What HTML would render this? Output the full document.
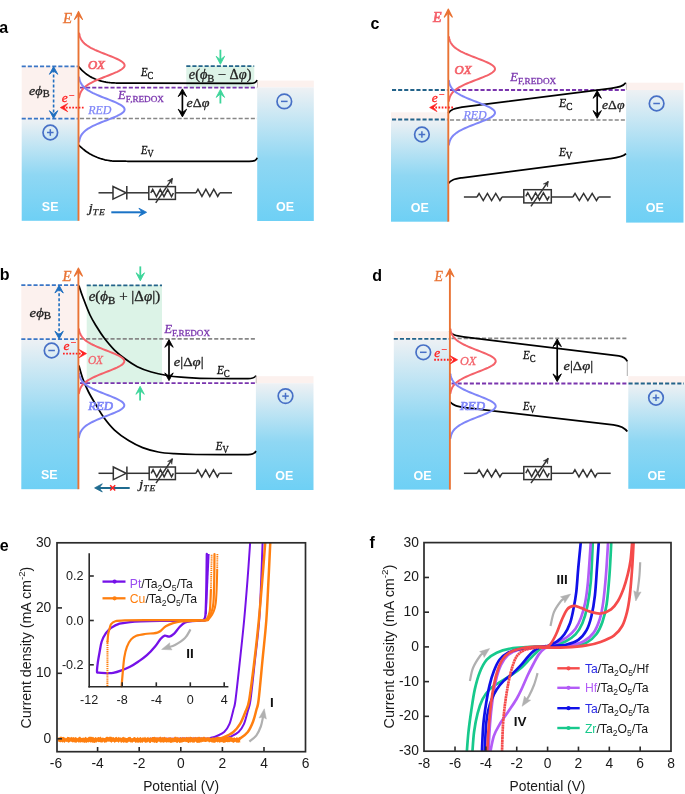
<!DOCTYPE html>
<html><head><meta charset="utf-8"><style>
html,body{margin:0;padding:0;background:#fff;}
svg{display:block;font-family:"Liberation Sans",sans-serif;will-change:transform;}
</style></head><body>
<svg width="685" height="794" viewBox="0 0 685 794">
<defs><linearGradient id="bg" x1="0" y1="0" x2="0" y2="1"><stop offset="0" stop-color="#EEF1F4"/><stop offset="0.55" stop-color="#8FD7F3"/><stop offset="1" stop-color="#6ED0F5"/></linearGradient></defs>
<rect width="685" height="794" fill="#fff"/>
<text x="-0.8" y="32.8" font-size="16" fill="#000" text-anchor="start" font-family="Liberation Sans" font-weight="bold" >a</text>
<rect x="21.7" y="66.4" width="56.8" height="52.2" fill="#FCF1EE" />
<rect x="21.7" y="118.6" width="56.8" height="102.2" fill="url(#bg)" />
<rect x="257.2" y="80.6" width="56.6" height="6.8" fill="#FCF1EE" />
<rect x="257.2" y="87.4" width="56.6" height="133.6" fill="url(#bg)" />
<rect x="186.3" y="65.8" width="68" height="21.8" fill="#DCF3E7" />
<line x1="186.3" y1="66.1" x2="254.2" y2="66.1" stroke="#23638A" stroke-width="1.7" stroke-dasharray="4.1,2" />
<line x1="21.7" y1="66.4" x2="77.8" y2="66.4" stroke="#3A76C6" stroke-width="1.8" stroke-dasharray="4.1,2" />
<line x1="21.7" y1="118.6" x2="77.8" y2="118.6" stroke="#3A76C6" stroke-width="1.8" stroke-dasharray="4.1,2" />
<line x1="80" y1="118.5" x2="257" y2="118.5" stroke="#878787" stroke-width="1.7" stroke-dasharray="4.1,2" />
<line x1="80" y1="87.7" x2="257" y2="87.7" stroke="#7A35AE" stroke-width="1.8" stroke-dasharray="4.1,2" />
<path d="M78.6,66.6 L79.75,67.95 L80.89,69.2 L82.04,70.36 L83.18,71.44 L84.33,72.44 L85.47,73.37 L86.62,74.23 L87.77,75.03 L88.91,75.78 L90.06,76.47 L91.2,77.12 L92.35,77.72 L93.5,78.27 L94.64,78.79 L95.79,79.27 L96.93,79.71 L98.08,80.12 L99.22,80.5 L100.37,80.84 L101.52,81.16 L102.66,81.45 L103.81,81.71 L104.95,81.94 L106.1,82.15 L107.25,82.33 L108.39,82.5 L109.54,82.63 L110.68,82.75 L111.83,82.84 L112.97,82.92 L114.12,82.97 L115.27,83 L116.41,83.03 L117.56,83.06 L118.7,83.08 L119.85,83.1 L121,83.12 L122.14,83.14 L123.29,83.16 L124.43,83.17 L125.58,83.18 L126.72,83.19 L127.87,83.21 L129.02,83.21 L130.16,83.22 L131.31,83.23 L132.45,83.24 L133.6,83.24 L249.2,83.3 C254.2,83.3 256.2,82.8 257.2,80" fill="none" stroke="#000" stroke-width="1.75"/>
<path d="M78.6,145 L79.75,146.13 L80.89,147.2 L82.04,148.21 L83.18,149.16 L84.33,150.06 L85.47,150.92 L86.62,151.73 L87.77,152.49 L88.91,153.21 L90.06,153.9 L91.2,154.54 L92.35,155.15 L93.5,155.73 L94.64,156.27 L95.79,156.78 L96.93,157.26 L98.08,157.7 L99.22,158.12 L100.37,158.51 L101.52,158.87 L102.66,159.2 L103.81,159.5 L104.95,159.78 L106.1,160.03 L107.25,160.26 L108.39,160.46 L109.54,160.63 L110.68,160.78 L111.83,160.91 L112.97,161.01 L114.12,161.09 L115.27,161.14 L116.41,161.17 L117.56,161.18 L118.7,161.19 L119.85,161.2 L121,161.21 L122.14,161.22 L123.29,161.23 L124.43,161.24 L125.58,161.24 L126.72,161.25 L127.87,161.25 L129.02,161.26 L130.16,161.26 L131.31,161.27 L132.45,161.27 L133.6,161.27 L249.2,161.3 C254.2,161.3 256.2,160.8 257.2,157.8" fill="none" stroke="#000" stroke-width="1.75"/>
<path d="M79.17,33.4 L79.33,34.31 L79.53,35.23 L79.77,36.14 L80.07,37.06 L80.43,37.97 L80.86,38.89 L81.37,39.8 L81.98,40.71 L82.68,41.63 L83.5,42.54 L84.44,43.46 L85.51,44.37 L86.72,45.29 L88.07,46.2 L89.57,47.11 L91.22,48.03 L93.01,48.94 L94.93,49.86 L96.98,50.77 L99.14,51.69 L101.39,52.6 L103.7,53.51 L106.06,54.43 L108.42,55.34 L110.75,56.26 L113.01,57.17 L115.17,58.09 L117.19,59 L119.03,59.91 L120.66,60.83 L122.04,61.74 L123.14,62.66 L123.95,63.57 L124.44,64.49 L124.6,65.4 L124.44,66.31 L123.95,67.23 L123.14,68.14 L122.04,69.06 L120.66,69.97 L119.03,70.89 L117.19,71.8 L115.17,72.71 L113.01,73.63 L110.75,74.54 L108.42,75.46 L106.06,76.37 L103.7,77.29 L101.39,78.2 L99.14,79.11 L96.98,80.03 L94.93,80.94 L93.01,81.86 L91.22,82.77 L89.57,83.69 L88.07,84.6 L86.72,85.51 L85.51,86.43 L84.44,87.34 L83.5,88.26 L82.68,89.17 L81.98,90.09 L81.37,91 L80.86,91.91 L80.43,92.83 L80.07,93.74 L79.77,94.66 L79.53,95.57 L79.33,96.49 L79.17,97.4" fill="none" stroke="#F4626A" stroke-width="2.0" stroke-linecap="round"/>
<path d="M79.17,77.5 L79.33,78.41 L79.53,79.33 L79.77,80.24 L80.07,81.16 L80.43,82.07 L80.86,82.99 L81.37,83.9 L81.98,84.81 L82.68,85.73 L83.5,86.64 L84.44,87.56 L85.51,88.47 L86.72,89.39 L88.07,90.3 L89.57,91.21 L91.22,92.13 L93.01,93.04 L94.93,93.96 L96.98,94.87 L99.14,95.79 L101.39,96.7 L103.7,97.61 L106.06,98.53 L108.42,99.44 L110.75,100.36 L113.01,101.27 L115.17,102.19 L117.19,103.1 L119.03,104.01 L120.66,104.93 L122.04,105.84 L123.14,106.76 L123.95,107.67 L124.44,108.59 L124.6,109.5 L124.44,110.41 L123.95,111.33 L123.14,112.24 L122.04,113.16 L120.66,114.07 L119.03,114.99 L117.19,115.9 L115.17,116.81 L113.01,117.73 L110.75,118.64 L108.42,119.56 L106.06,120.47 L103.7,121.39 L101.39,122.3 L99.14,123.21 L96.98,124.13 L94.93,125.04 L93.01,125.96 L91.22,126.87 L89.57,127.79 L88.07,128.7 L86.72,129.61 L85.51,130.53 L84.44,131.44 L83.5,132.36 L82.68,133.27 L81.98,134.19 L81.37,135.1 L80.86,136.01 L80.43,136.93 L80.07,137.84 L79.77,138.76 L79.53,139.67 L79.33,140.59 L79.17,141.5" fill="none" stroke="#7F86F8" stroke-width="2.0" stroke-linecap="round"/>
<line x1="78.5" y1="220.8" x2="78.5" y2="14.4" stroke="#E97334" stroke-width="1.9" />
<path d="M78.5,11.4 L82.5,19.4 L78.5,15 L74.5,19.4 Z" fill="#E97334" stroke="#E97334" stroke-width="1.1" stroke-linejoin="round"/>
<text x="63" y="23" font-size="14.8" fill="#E97334" stroke="#E97334" stroke-width="0.35" font-family="Liberation Serif" ><tspan font-style="italic">E</tspan></text>
<text x="87.9" y="68.5" font-size="12.2" fill="#F4626A" stroke="#F4626A" stroke-width="0.7" font-family="Liberation Serif" textLength="17" lengthAdjust="spacingAndGlyphs" ><tspan font-style="italic">OX</tspan></text>
<text x="88.2" y="113.9" font-size="12.2" fill="#7F86F8" stroke="#7F86F8" stroke-width="0.25" font-family="Liberation Serif" textLength="23.3" lengthAdjust="spacingAndGlyphs" ><tspan font-style="italic">RED</tspan></text>
<text x="61.8" y="102.3" font-size="13.5" fill="#FF2020" stroke="#FF2020" stroke-width="0.3" font-family="Liberation Serif" ><tspan font-style="italic">e</tspan><tspan font-size="10" dx="1.2" dy="-3.8">−</tspan></text>
<line x1="83.6" y1="107.6" x2="63.3" y2="107.6" stroke="#FF2020" stroke-width="1.9" stroke-dasharray="1.7,1.5" />
<path d="M60.3,107.6 L67.7,103.5 L64.2,107.6 L67.7,111.7 Z" fill="#FF2020" stroke="#FF2020" stroke-width="0.7" stroke-linejoin="round"/>
<line x1="53.6" y1="69.6" x2="53.6" y2="115.4" stroke="#1F6FC0" stroke-width="1.6" stroke-dasharray="3,2" />
<path d="M53.6,66.6 L57.8,74.3 L53.6,70.9 L49.4,74.3 Z" fill="#1F6FC0" stroke="#1F6FC0" stroke-width="0.9" stroke-linejoin="round"/>
<path d="M53.6,118.4 L49.4,110.7 L53.6,114.1 L57.8,110.7 Z" fill="#1F6FC0" stroke="#1F6FC0" stroke-width="0.9" stroke-linejoin="round"/>
<text x="29.1" y="95.3" font-size="13.5" fill="#222" stroke="#222" stroke-width="0.3" font-family="Liberation Serif" textLength="20.5" lengthAdjust="spacingAndGlyphs" ><tspan font-style="italic">eϕ</tspan><tspan font-size="10" dy="2">B</tspan></text>
<circle cx="50.3" cy="132.5" r="7.3" fill="none" stroke="#4770C6" stroke-width="1.7"/>
<line x1="47" y1="132.5" x2="53.6" y2="132.5" stroke="#4770C6" stroke-width="1.5" />
<line x1="50.3" y1="129.2" x2="50.3" y2="135.8" stroke="#4770C6" stroke-width="1.5" />
<text x="50.2" y="211" font-size="12.5" fill="#fff" text-anchor="middle" font-family="Liberation Sans" font-weight="bold" >SE</text>
<text x="140.9" y="75.8" font-size="12.6" fill="#111" stroke="#111" stroke-width="0.3" font-family="Liberation Serif" textLength="12.4" lengthAdjust="spacingAndGlyphs" ><tspan font-style="italic">E</tspan><tspan font-size="10" dy="2.9">C</tspan></text>
<text x="140.9" y="153.6" font-size="12.6" fill="#111" stroke="#111" stroke-width="0.3" font-family="Liberation Serif" textLength="12.6" lengthAdjust="spacingAndGlyphs" ><tspan font-style="italic">E</tspan><tspan font-size="10" dy="2.9">V</tspan></text>
<text x="118.1" y="98.5" font-size="12.6" fill="#7A35AE" stroke="#7A35AE" stroke-width="0.3" font-family="Liberation Serif" textLength="45.9" lengthAdjust="spacingAndGlyphs" ><tspan font-style="italic">E</tspan><tspan font-size="9.2" dy="3">F,REDOX</tspan></text>
<line x1="220.4" y1="49.7" x2="220.4" y2="61.3" stroke="#3DD59A" stroke-width="1.8" />
<path d="M220.4,64.3 L216.2,56.3 L220.4,59.8 L224.6,56.3 Z" fill="#3DD59A" stroke="#3DD59A" stroke-width="0.9" stroke-linejoin="round"/>
<line x1="220.4" y1="103.5" x2="220.4" y2="92.4" stroke="#3DD59A" stroke-width="1.8" />
<path d="M220.4,89.4 L224.6,97.4 L220.4,93.9 L216.2,97.4 Z" fill="#3DD59A" stroke="#3DD59A" stroke-width="0.9" stroke-linejoin="round"/>
<text x="188.8" y="79.3" font-size="13.6" fill="#222" stroke="#222" stroke-width="0.3" font-family="Liberation Serif" textLength="62.7" lengthAdjust="spacingAndGlyphs" ><tspan font-style="italic">e</tspan>(<tspan font-style="italic">ϕ</tspan><tspan font-size="10" dy="2.3">B</tspan><tspan dy="-2.3"> − Δ</tspan><tspan font-style="italic">φ</tspan>)</text>
<line x1="182.4" y1="91.9" x2="182.4" y2="113.9" stroke="#000" stroke-width="1.7" />
<path d="M182.4,88.9 L186.6,96.6 L182.4,93.2 L178.2,96.6 Z" fill="#000" stroke="#000" stroke-width="0.9" stroke-linejoin="round"/>
<path d="M182.4,116.9 L178.2,109.2 L182.4,112.6 L186.6,109.2 Z" fill="#000" stroke="#000" stroke-width="0.9" stroke-linejoin="round"/>
<text x="186.6" y="107.3" font-size="13.2" fill="#222" stroke="#222" stroke-width="0.3" font-family="Liberation Serif" textLength="22.9" lengthAdjust="spacingAndGlyphs" ><tspan font-style="italic">e</tspan>Δ<tspan font-style="italic">φ</tspan></text>
<line x1="98.5" y1="192.8" x2="113" y2="192.8" stroke="#333" stroke-width="1.5" />
<path d="M113,186.5 L126,192.8 L113,199.1 Z" fill="none" stroke="#333" stroke-width="1.5"/>
<line x1="126.8" y1="186" x2="126.8" y2="199.6" stroke="#333" stroke-width="1.5" />
<line x1="127" y1="192.8" x2="148.8" y2="192.8" stroke="#333" stroke-width="1.5" />
<rect x="148.8" y="186.6" width="26.6" height="12.8" fill="none" stroke="#333" stroke-width="1.5"/>
<path d="M150.8,193 L152.68,189.4 L156.45,196.6 L160.22,189.4 L163.98,196.6 L167.75,189.4 L171.52,196.6 L173.4,193" fill="none" stroke="#333" stroke-width="1.5" stroke-linejoin="miter"/>
<line x1="155.72" y1="202.9" x2="172.47" y2="178.3" stroke="#333" stroke-width="1.5" />
<path d="M172.47,178.3 L171.81,183.9 L170.67,180.94 L167.51,180.97 Z" fill="#333" stroke="#333" stroke-width="0.5" stroke-linejoin="round"/>
<line x1="175.4" y1="192.8" x2="196" y2="192.8" stroke="#333" stroke-width="1.5" />
<path d="M196,192.8 L197.97,189.2 L201.92,196.4 L205.87,189.2 L209.82,196.4 L213.77,189.2 L217.72,196.4 L219.7,192.8" fill="none" stroke="#333" stroke-width="1.5" stroke-linejoin="miter"/>
<line x1="219.7" y1="192.8" x2="232" y2="192.8" stroke="#333" stroke-width="1.5" />
<text x="88.5" y="211.6" font-size="13.5" fill="#222" stroke="#222" stroke-width="0.25" font-family="Liberation Serif" textLength="17.3" lengthAdjust="spacingAndGlyphs" ><tspan font-style="italic">j</tspan><tspan font-size="8.3" dy="2.9" font-style="italic" letter-spacing="0.8">TE</tspan></text>
<line x1="111.3" y1="212.3" x2="143" y2="212.3" stroke="#1A73C6" stroke-width="2.0" />
<path d="M146.6,212.3 L138.9,216.4 L142,212.3 L138.9,208.2 Z" fill="#1A73C6" stroke="#1A73C6" stroke-width="0.8" stroke-linejoin="round"/>
<circle cx="284.3" cy="101.4" r="7.3" fill="none" stroke="#4770C6" stroke-width="1.7"/>
<line x1="281" y1="101.4" x2="287.6" y2="101.4" stroke="#4770C6" stroke-width="1.5" />
<line x1="257.5" y1="80.4" x2="257.5" y2="87.6" stroke="#B8B0AE" stroke-width="0.8" />
<text x="285" y="210.5" font-size="12.5" fill="#fff" text-anchor="middle" font-family="Liberation Sans" font-weight="bold" >OE</text>
<text x="370.6" y="29.1" font-size="16" fill="#000" text-anchor="start" font-family="Liberation Sans" font-weight="bold" >c</text>
<rect x="391" y="112.3" width="57" height="7.2" fill="#FCF1EE" />
<rect x="391" y="119.5" width="57" height="102.2" fill="url(#bg)" />
<rect x="626.1" y="82.7" width="57.4" height="7.3" fill="#FCF1EE" />
<rect x="626.1" y="90" width="57.4" height="132.6" fill="url(#bg)" />
<line x1="392" y1="90" x2="447.5" y2="90" stroke="#23638A" stroke-width="1.8" stroke-dasharray="4.1,2" />
<line x1="392" y1="119.5" x2="447.5" y2="119.5" stroke="#23638A" stroke-width="1.8" stroke-dasharray="4.1,2" />
<line x1="450" y1="90" x2="625.6" y2="90" stroke="#7A35AE" stroke-width="1.8" stroke-dasharray="4.1,2" />
<line x1="450" y1="120" x2="626" y2="120" stroke="#878787" stroke-width="1.7" stroke-dasharray="4.1,2" />
<path d="M448.3,113.3 C451,109 455,108.5 462,107.2 L611,88.3 C618,87.4 623,86.6 625.8,82.7" fill="none" stroke="#000" stroke-width="1.75"/>
<path d="M448.3,183.6 C451,179.5 455,179 462,177.8 L610,158.6 C617,157.7 623,157 626,153.6" fill="none" stroke="#000" stroke-width="1.75"/>
<path d="M448.88,36.9 L449.04,37.81 L449.24,38.73 L449.49,39.64 L449.79,40.56 L450.16,41.47 L450.59,42.39 L451.11,43.3 L451.73,44.21 L452.44,45.13 L453.27,46.04 L454.23,46.96 L455.32,47.87 L456.54,48.79 L457.92,49.7 L459.44,50.61 L461.11,51.53 L462.93,52.44 L464.88,53.36 L466.96,54.27 L469.15,55.19 L471.44,56.1 L473.79,57.01 L476.18,57.93 L478.57,58.84 L480.94,59.76 L483.24,60.67 L485.43,61.59 L487.48,62.5 L489.35,63.41 L491,64.33 L492.4,65.24 L493.52,66.16 L494.34,67.07 L494.83,67.99 L495,68.9 L494.83,69.81 L494.34,70.73 L493.52,71.64 L492.4,72.56 L491,73.47 L489.35,74.39 L487.48,75.3 L485.43,76.21 L483.24,77.13 L480.94,78.04 L478.57,78.96 L476.18,79.87 L473.79,80.79 L471.44,81.7 L469.15,82.61 L466.96,83.53 L464.88,84.44 L462.93,85.36 L461.11,86.27 L459.44,87.19 L457.92,88.1 L456.54,89.01 L455.32,89.93 L454.23,90.84 L453.27,91.76 L452.44,92.67 L451.73,93.59 L451.11,94.5 L450.59,95.41 L450.16,96.33 L449.79,97.24 L449.49,98.16 L449.24,99.07 L449.04,99.99 L448.88,100.9" fill="none" stroke="#F4626A" stroke-width="2.0" stroke-linecap="round"/>
<path d="M448.88,80.7 L449.04,81.61 L449.24,82.53 L449.49,83.44 L449.79,84.36 L450.16,85.27 L450.59,86.19 L451.11,87.1 L451.73,88.01 L452.44,88.93 L453.27,89.84 L454.23,90.76 L455.32,91.67 L456.54,92.59 L457.92,93.5 L459.44,94.41 L461.11,95.33 L462.93,96.24 L464.88,97.16 L466.96,98.07 L469.15,98.99 L471.44,99.9 L473.79,100.81 L476.18,101.73 L478.57,102.64 L480.94,103.56 L483.24,104.47 L485.43,105.39 L487.48,106.3 L489.35,107.21 L491,108.13 L492.4,109.04 L493.52,109.96 L494.34,110.87 L494.83,111.79 L495,112.7 L494.83,113.61 L494.34,114.53 L493.52,115.44 L492.4,116.36 L491,117.27 L489.35,118.19 L487.48,119.1 L485.43,120.01 L483.24,120.93 L480.94,121.84 L478.57,122.76 L476.18,123.67 L473.79,124.59 L471.44,125.5 L469.15,126.41 L466.96,127.33 L464.88,128.24 L462.93,129.16 L461.11,130.07 L459.44,130.99 L457.92,131.9 L456.54,132.81 L455.32,133.73 L454.23,134.64 L453.27,135.56 L452.44,136.47 L451.73,137.39 L451.11,138.3 L450.59,139.21 L450.16,140.13 L449.79,141.04 L449.49,141.96 L449.24,142.87 L449.04,143.79 L448.88,144.7" fill="none" stroke="#7F86F8" stroke-width="2.0" stroke-linecap="round"/>
<line x1="448.3" y1="221.7" x2="448.3" y2="12.1" stroke="#E97334" stroke-width="1.9" />
<path d="M448.3,9.1 L452.3,17.1 L448.3,12.7 L444.3,17.1 Z" fill="#E97334" stroke="#E97334" stroke-width="1.1" stroke-linejoin="round"/>
<text x="433" y="22.4" font-size="14.0" fill="#F5606A" stroke="#F5606A" stroke-width="0.7" font-family="Liberation Serif" ><tspan font-style="italic">E</tspan></text>
<text x="454.6" y="74.1" font-size="12.2" fill="#F4626A" stroke="#F4626A" stroke-width="0.7" font-family="Liberation Serif" textLength="17" lengthAdjust="spacingAndGlyphs" ><tspan font-style="italic">OX</tspan></text>
<text x="463.4" y="118.8" font-size="12.2" fill="#7F86F8" stroke="#7F86F8" stroke-width="0.25" font-family="Liberation Serif" textLength="23.3" lengthAdjust="spacingAndGlyphs" ><tspan font-style="italic">RED</tspan></text>
<text x="431.8" y="101.8" font-size="13.5" fill="#FF2020" stroke="#FF2020" stroke-width="0.3" font-family="Liberation Serif" ><tspan font-style="italic">e</tspan><tspan font-size="10" dx="1.2" dy="-3.8">−</tspan></text>
<line x1="453" y1="107.5" x2="432.6" y2="107.5" stroke="#FF2020" stroke-width="1.9" stroke-dasharray="1.7,1.5" />
<path d="M429.6,107.5 L437,103.4 L433.5,107.5 L437,111.6 Z" fill="#FF2020" stroke="#FF2020" stroke-width="0.7" stroke-linejoin="round"/>
<text x="510.3" y="80.8" font-size="12.6" fill="#7A35AE" stroke="#7A35AE" stroke-width="0.3" font-family="Liberation Serif" textLength="45.9" lengthAdjust="spacingAndGlyphs" ><tspan font-style="italic">E</tspan><tspan font-size="9.2" dy="3">F,REDOX</tspan></text>
<text x="558.9" y="107.3" font-size="12.6" fill="#111" stroke="#111" stroke-width="0.3" font-family="Liberation Serif" textLength="13.5" lengthAdjust="spacingAndGlyphs" ><tspan font-style="italic">E</tspan><tspan font-size="10" dy="2.9">C</tspan></text>
<text x="558.9" y="156" font-size="12.6" fill="#111" stroke="#111" stroke-width="0.3" font-family="Liberation Serif" textLength="13.5" lengthAdjust="spacingAndGlyphs" ><tspan font-style="italic">E</tspan><tspan font-size="10" dy="2.9">V</tspan></text>
<line x1="597.2" y1="93.6" x2="597.2" y2="115.3" stroke="#000" stroke-width="1.7" />
<path d="M597.2,90.6 L601.4,98.3 L597.2,94.9 L593,98.3 Z" fill="#000" stroke="#000" stroke-width="0.9" stroke-linejoin="round"/>
<path d="M597.2,118.3 L593,110.6 L597.2,114 L601.4,110.6 Z" fill="#000" stroke="#000" stroke-width="0.9" stroke-linejoin="round"/>
<text x="602" y="108.6" font-size="13.2" fill="#222" stroke="#222" stroke-width="0.3" font-family="Liberation Serif" textLength="22.5" lengthAdjust="spacingAndGlyphs" ><tspan font-style="italic">e</tspan>Δ<tspan font-style="italic">φ</tspan></text>
<circle cx="421.9" cy="134.5" r="7.3" fill="none" stroke="#4770C6" stroke-width="1.7"/>
<line x1="418.6" y1="134.5" x2="425.2" y2="134.5" stroke="#4770C6" stroke-width="1.5" />
<line x1="421.9" y1="131.2" x2="421.9" y2="137.8" stroke="#4770C6" stroke-width="1.5" />
<circle cx="656.6" cy="103.5" r="7.3" fill="none" stroke="#4770C6" stroke-width="1.7"/>
<line x1="653.3" y1="103.5" x2="659.9" y2="103.5" stroke="#4770C6" stroke-width="1.5" />
<line x1="626.4" y1="82.7" x2="626.4" y2="90" stroke="#B8B0AE" stroke-width="0.8" />
<text x="419.8" y="211.5" font-size="12.5" fill="#fff" text-anchor="middle" font-family="Liberation Sans" font-weight="bold" >OE</text>
<text x="654.8" y="212.1" font-size="12.5" fill="#fff" text-anchor="middle" font-family="Liberation Sans" font-weight="bold" >OE</text>
<line x1="463.9" y1="197" x2="477" y2="197" stroke="#333" stroke-width="1.5" />
<path d="M477,197 L479.08,193.4 L483.25,200.6 L487.42,193.4 L491.58,200.6 L495.75,193.4 L499.92,200.6 L502,197" fill="none" stroke="#333" stroke-width="1.5" stroke-linejoin="miter"/>
<line x1="502" y1="197" x2="523.8" y2="197" stroke="#333" stroke-width="1.5" />
<rect x="523.8" y="189.7" width="27.5" height="13.2" fill="none" stroke="#333" stroke-width="1.5"/>
<path d="M525.8,196.3 L527.76,192.7 L531.67,199.9 L535.59,192.7 L539.51,199.9 L543.42,192.7 L547.34,199.9 L549.3,196.3" fill="none" stroke="#333" stroke-width="1.5" stroke-linejoin="miter"/>
<line x1="530.95" y1="206.4" x2="548.27" y2="181.4" stroke="#333" stroke-width="1.5" />
<path d="M548.27,181.4 L547.56,186.99 L546.45,184.03 L543.29,184.03 Z" fill="#333" stroke="#333" stroke-width="0.5" stroke-linejoin="round"/>
<line x1="551.3" y1="197" x2="572.9" y2="197" stroke="#333" stroke-width="1.5" />
<path d="M572.9,197 L575.04,193.4 L579.32,200.6 L583.61,193.4 L587.89,200.6 L592.17,193.4 L596.46,200.6 L598.6,197" fill="none" stroke="#333" stroke-width="1.5" stroke-linejoin="miter"/>
<line x1="598.6" y1="197" x2="610.7" y2="197" stroke="#333" stroke-width="1.5" />
<text x="-0.3" y="280.1" font-size="16" fill="#000" text-anchor="start" font-family="Liberation Sans" font-weight="bold" >b</text>
<rect x="21.3" y="285.1" width="57.2" height="54" fill="#FCF1EE" />
<rect x="21.3" y="339.1" width="57.2" height="150.1" fill="url(#bg)" />
<rect x="255.9" y="376.2" width="57.6" height="7" fill="#FCF1EE" />
<rect x="255.9" y="383.2" width="57.6" height="106.8" fill="url(#bg)" />
<rect x="86.7" y="285" width="75.3" height="98.2" fill="#DCF3E7" />
<line x1="86.7" y1="285.3" x2="162" y2="285.3" stroke="#23638A" stroke-width="1.7" stroke-dasharray="4.1,2" />
<line x1="21.3" y1="285.1" x2="77.8" y2="285.1" stroke="#3A76C6" stroke-width="1.8" stroke-dasharray="4.1,2" />
<line x1="21.3" y1="339.1" x2="77.8" y2="339.1" stroke="#3A76C6" stroke-width="1.8" stroke-dasharray="4.1,2" />
<line x1="80" y1="338.9" x2="255.5" y2="338.9" stroke="#878787" stroke-width="1.7" stroke-dasharray="4.1,2" />
<line x1="80" y1="383.2" x2="256" y2="383.2" stroke="#7A35AE" stroke-width="1.8" stroke-dasharray="4.1,2" />
<path d="M78.9,285.6 C79.58,287.58 81.15,292.6 83,297.5 C84.85,302.4 87.67,310.03 90,315 C92.33,319.97 94.67,323.5 97,327.3 C99.33,331.1 101.08,334 104,337.8 C106.92,341.6 111,346.6 114.5,350.1 C118,353.6 121.2,356.03 125,358.8 C128.8,361.57 132.92,364.5 137.3,366.7 C141.68,368.9 146.33,370.53 151.3,372 C156.27,373.47 162.13,374.63 167.1,375.5 C172.07,376.37 176.28,376.77 181.1,377.2 C185.92,377.63 190.35,377.88 196,378.1 C201.65,378.32 206.33,378.42 215,378.5 C223.67,378.58 242.5,378.58 248,378.6 C252,378.6 254.5,378 256,375.6" fill="none" stroke="#000" stroke-width="1.75"/>
<path d="M78.9,365.6 C79.58,367.88 81.43,374.98 83,379.3 C84.57,383.62 86.25,387.42 88.3,391.5 C90.35,395.58 92.68,399.42 95.3,403.8 C97.92,408.18 100.8,413.42 104,417.8 C107.2,422.18 110.4,426.3 114.5,430.1 C118.6,433.9 123.92,437.68 128.6,440.6 C133.28,443.52 137.65,445.7 142.6,447.6 C147.55,449.5 153.05,450.98 158.3,452 C163.55,453.02 167.82,453.28 174.1,453.7 C180.38,454.12 183.68,454.33 196,454.5 C208.32,454.67 239.33,454.67 248,454.7 C252,454.7 254.5,454 256,451" fill="none" stroke="#000" stroke-width="1.75"/>
<path d="M78.97,329.2 L79.13,330.11 L79.33,331.03 L79.57,331.94 L79.87,332.86 L80.22,333.77 L80.65,334.69 L81.17,335.6 L81.77,336.51 L82.47,337.43 L83.29,338.34 L84.23,339.26 L85.3,340.17 L86.5,341.09 L87.85,342 L89.35,342.91 L90.99,343.83 L92.77,344.74 L94.7,345.66 L96.74,346.57 L98.9,347.49 L101.14,348.4 L103.45,349.31 L105.8,350.23 L108.15,351.14 L110.48,352.06 L112.74,352.97 L114.89,353.89 L116.91,354.8 L118.74,355.71 L120.37,356.63 L121.74,357.54 L122.84,358.46 L123.65,359.37 L124.14,360.29 L124.3,361.2 L124.14,362.11 L123.65,363.03 L122.84,363.94 L121.74,364.86 L120.37,365.77 L118.74,366.69 L116.91,367.6 L114.89,368.51 L112.74,369.43 L110.48,370.34 L108.15,371.26 L105.8,372.17 L103.45,373.09 L101.14,374 L98.9,374.91 L96.74,375.83 L94.7,376.74 L92.77,377.66 L90.99,378.57 L89.35,379.49 L87.85,380.4 L86.5,381.31 L85.3,382.23 L84.23,383.14 L83.29,384.06 L82.47,384.97 L81.77,385.89 L81.17,386.8 L80.65,387.71 L80.22,388.63 L79.87,389.54 L79.57,390.46 L79.33,391.37 L79.13,392.29 L78.97,393.2" fill="none" stroke="#F4626A" stroke-width="2.0" stroke-linecap="round"/>
<path d="M78.97,373.3 L79.13,374.21 L79.33,375.13 L79.57,376.04 L79.87,376.96 L80.22,377.87 L80.65,378.79 L81.17,379.7 L81.77,380.61 L82.47,381.53 L83.29,382.44 L84.23,383.36 L85.3,384.27 L86.5,385.19 L87.85,386.1 L89.35,387.01 L90.99,387.93 L92.77,388.84 L94.7,389.76 L96.74,390.67 L98.9,391.59 L101.14,392.5 L103.45,393.41 L105.8,394.33 L108.15,395.24 L110.48,396.16 L112.74,397.07 L114.89,397.99 L116.91,398.9 L118.74,399.81 L120.37,400.73 L121.74,401.64 L122.84,402.56 L123.65,403.47 L124.14,404.39 L124.3,405.3 L124.14,406.21 L123.65,407.13 L122.84,408.04 L121.74,408.96 L120.37,409.87 L118.74,410.79 L116.91,411.7 L114.89,412.61 L112.74,413.53 L110.48,414.44 L108.15,415.36 L105.8,416.27 L103.45,417.19 L101.14,418.1 L98.9,419.01 L96.74,419.93 L94.7,420.84 L92.77,421.76 L90.99,422.67 L89.35,423.59 L87.85,424.5 L86.5,425.41 L85.3,426.33 L84.23,427.24 L83.29,428.16 L82.47,429.07 L81.77,429.99 L81.17,430.9 L80.65,431.81 L80.22,432.73 L79.87,433.64 L79.57,434.56 L79.33,435.47 L79.13,436.39 L78.97,437.3" fill="none" stroke="#7F86F8" stroke-width="2.0" stroke-linecap="round"/>
<line x1="78.4" y1="489.2" x2="78.4" y2="271.1" stroke="#E97334" stroke-width="1.9" />
<path d="M78.4,268.1 L82.4,276.1 L78.4,271.7 L74.4,276.1 Z" fill="#E97334" stroke="#E97334" stroke-width="1.1" stroke-linejoin="round"/>
<text x="62.5" y="281.1" font-size="14.8" fill="#E97334" stroke="#E97334" stroke-width="0.35" font-family="Liberation Serif" ><tspan font-style="italic">E</tspan></text>
<text x="87.9" y="363.8" font-size="12.2" fill="#F4626A" stroke="#F4626A" stroke-width="0.3" font-family="Liberation Serif" textLength="15.2" lengthAdjust="spacingAndGlyphs" ><tspan font-style="italic">OX</tspan></text>
<text x="88.3" y="409.9" font-size="12.2" fill="#7F86F8" stroke="#7F86F8" stroke-width="0.7" font-family="Liberation Serif" textLength="24.8" lengthAdjust="spacingAndGlyphs" ><tspan font-style="italic">RED</tspan></text>
<text x="63.6" y="349.8" font-size="13.5" fill="#FF2020" stroke="#FF2020" stroke-width="0.3" font-family="Liberation Serif" ><tspan font-style="italic">e</tspan><tspan font-size="10" dx="1.2" dy="-3.8">−</tspan></text>
<line x1="63" y1="353.6" x2="83.5" y2="353.6" stroke="#FF2020" stroke-width="1.9" stroke-dasharray="1.7,1.5" />
<path d="M86.5,353.6 L79.1,357.7 L82.6,353.6 L79.1,349.5 Z" fill="#FF2020" stroke="#FF2020" stroke-width="0.7" stroke-linejoin="round"/>
<line x1="59.1" y1="288.3" x2="59.1" y2="335.9" stroke="#1F6FC0" stroke-width="1.6" stroke-dasharray="3,2" />
<path d="M59.1,285.3 L63.3,293 L59.1,289.6 L54.9,293 Z" fill="#1F6FC0" stroke="#1F6FC0" stroke-width="0.9" stroke-linejoin="round"/>
<path d="M59.1,338.9 L54.9,331.2 L59.1,334.6 L63.3,331.2 Z" fill="#1F6FC0" stroke="#1F6FC0" stroke-width="0.9" stroke-linejoin="round"/>
<text x="29.6" y="317.3" font-size="13.5" fill="#222" stroke="#222" stroke-width="0.3" font-family="Liberation Serif" textLength="21.6" lengthAdjust="spacingAndGlyphs" ><tspan font-style="italic">eϕ</tspan><tspan font-size="10" dy="2">B</tspan></text>
<circle cx="51.6" cy="350.5" r="7.3" fill="none" stroke="#4770C6" stroke-width="1.7"/>
<line x1="48.3" y1="350.5" x2="54.9" y2="350.5" stroke="#4770C6" stroke-width="1.5" />
<text x="49.3" y="479.4" font-size="12.5" fill="#fff" text-anchor="middle" font-family="Liberation Sans" font-weight="bold" >SE</text>
<line x1="140.3" y1="266.4" x2="140.3" y2="277.8" stroke="#3DD59A" stroke-width="1.8" />
<path d="M140.3,280.8 L136.1,272.8 L140.3,276.3 L144.5,272.8 Z" fill="#3DD59A" stroke="#3DD59A" stroke-width="0.9" stroke-linejoin="round"/>
<line x1="140.1" y1="400.6" x2="140.1" y2="389.3" stroke="#3DD59A" stroke-width="1.8" />
<path d="M140.1,386.3 L144.3,394.3 L140.1,390.8 L135.9,394.3 Z" fill="#3DD59A" stroke="#3DD59A" stroke-width="0.9" stroke-linejoin="round"/>
<text x="88.7" y="301.3" font-size="13.6" fill="#222" stroke="#222" stroke-width="0.3" font-family="Liberation Serif" textLength="71.5" lengthAdjust="spacingAndGlyphs" ><tspan font-style="italic">e</tspan>(<tspan font-style="italic">ϕ</tspan><tspan font-size="10" dy="2.3">B</tspan><tspan dy="-2.3"> + |Δ</tspan><tspan font-style="italic">φ</tspan>|)</text>
<text x="164.4" y="332.9" font-size="12.6" fill="#7A35AE" stroke="#7A35AE" stroke-width="0.3" font-family="Liberation Serif" textLength="45.6" lengthAdjust="spacingAndGlyphs" ><tspan font-style="italic">E</tspan><tspan font-size="9.2" dy="3">F,REDOX</tspan></text>
<line x1="169" y1="342.6" x2="169" y2="377.6" stroke="#000" stroke-width="1.7" />
<path d="M169,339.6 L173.2,347.3 L169,343.9 L164.8,347.3 Z" fill="#000" stroke="#000" stroke-width="0.9" stroke-linejoin="round"/>
<path d="M169,380.6 L164.8,372.9 L169,376.3 L173.2,372.9 Z" fill="#000" stroke="#000" stroke-width="0.9" stroke-linejoin="round"/>
<text x="173.7" y="366.3" font-size="13.2" fill="#222" stroke="#222" stroke-width="0.3" font-family="Liberation Serif" textLength="29.9" lengthAdjust="spacingAndGlyphs" ><tspan font-style="italic">e</tspan>|Δ<tspan font-style="italic">φ</tspan>|</text>
<text x="217" y="373.6" font-size="12.6" fill="#111" stroke="#111" stroke-width="0.3" font-family="Liberation Serif" textLength="12.8" lengthAdjust="spacingAndGlyphs" ><tspan font-style="italic">E</tspan><tspan font-size="10" dy="2.9">C</tspan></text>
<text x="215.8" y="449.8" font-size="12.6" fill="#111" stroke="#111" stroke-width="0.3" font-family="Liberation Serif" textLength="12.8" lengthAdjust="spacingAndGlyphs" ><tspan font-style="italic">E</tspan><tspan font-size="10" dy="2.9">V</tspan></text>
<line x1="98.5" y1="473.3" x2="113.3" y2="473.3" stroke="#333" stroke-width="1.5" />
<path d="M113.3,467 L126.1,473.3 L113.3,479.6 Z" fill="none" stroke="#333" stroke-width="1.5"/>
<line x1="126.9" y1="466.5" x2="126.9" y2="480.1" stroke="#333" stroke-width="1.5" />
<line x1="127.1" y1="473.3" x2="149.2" y2="473.3" stroke="#333" stroke-width="1.5" />
<rect x="149.2" y="467" width="26.2" height="12.6" fill="none" stroke="#333" stroke-width="1.5"/>
<path d="M151.2,473.3 L153.05,469.7 L156.75,476.9 L160.45,469.7 L164.15,476.9 L167.85,469.7 L171.55,476.9 L173.4,473.3" fill="none" stroke="#333" stroke-width="1.5" stroke-linejoin="miter"/>
<line x1="156.01" y1="483.1" x2="172.52" y2="458.7" stroke="#333" stroke-width="1.5" />
<path d="M172.52,458.7 L171.87,464.3 L170.73,461.35 L167.56,461.38 Z" fill="#333" stroke="#333" stroke-width="0.5" stroke-linejoin="round"/>
<line x1="175.4" y1="473.3" x2="195.9" y2="473.3" stroke="#333" stroke-width="1.5" />
<path d="M195.9,473.3 L197.85,469.7 L201.75,476.9 L205.65,469.7 L209.55,476.9 L213.45,469.7 L217.35,476.9 L219.3,473.3" fill="none" stroke="#333" stroke-width="1.5" stroke-linejoin="miter"/>
<line x1="219.3" y1="473.3" x2="232.1" y2="473.3" stroke="#333" stroke-width="1.5" />
<text x="139" y="487.6" font-size="13.5" fill="#222" stroke="#222" stroke-width="0.25" font-family="Liberation Serif" textLength="17.3" lengthAdjust="spacingAndGlyphs" ><tspan font-style="italic">j</tspan><tspan font-size="8.3" dy="2.9" font-style="italic" letter-spacing="0.8">TE</tspan></text>
<line x1="97" y1="487.9" x2="129.7" y2="487.9" stroke="#1F6B8F" stroke-width="2.0" />
<path d="M94.6,487.9 L102.3,483.8 L99.2,487.9 L102.3,492 Z" fill="#1F6B8F" stroke="#1F6B8F" stroke-width="0.8" stroke-linejoin="round"/>
<path d="M110.2,485.3 L115.2,490.5 M115.2,485.3 L110.2,490.5" stroke="#FF2020" stroke-width="1.5"/>
<circle cx="285.5" cy="396.1" r="7.3" fill="none" stroke="#4770C6" stroke-width="1.7"/>
<line x1="282.2" y1="396.1" x2="288.8" y2="396.1" stroke="#4770C6" stroke-width="1.5" />
<line x1="285.5" y1="392.8" x2="285.5" y2="399.4" stroke="#4770C6" stroke-width="1.5" />
<line x1="256.2" y1="375.8" x2="256.2" y2="383.2" stroke="#B8B0AE" stroke-width="0.8" />
<text x="284.4" y="479.9" font-size="12.5" fill="#fff" text-anchor="middle" font-family="Liberation Sans" font-weight="bold" >OE</text>
<text x="372.2" y="281.3" font-size="16" fill="#000" text-anchor="start" font-family="Liberation Sans" font-weight="bold" >d</text>
<rect x="393.8" y="331.3" width="55.5" height="7.5" fill="#FCF1EE" />
<rect x="393.8" y="338.8" width="55.5" height="150.8" fill="url(#bg)" />
<rect x="628.3" y="376.2" width="56.7" height="7.3" fill="#FCF1EE" />
<rect x="628.3" y="383.5" width="56.7" height="105.3" fill="url(#bg)" />
<line x1="393.8" y1="338.8" x2="449" y2="338.8" stroke="#23638A" stroke-width="1.8" stroke-dasharray="4.1,2" />
<line x1="451.5" y1="338.4" x2="627" y2="338.4" stroke="#878787" stroke-width="1.7" stroke-dasharray="4.1,2" />
<line x1="451.5" y1="383.5" x2="627" y2="383.5" stroke="#7A35AE" stroke-width="1.8" stroke-dasharray="4.1,2" />
<line x1="628.5" y1="383.5" x2="684" y2="383.5" stroke="#23638A" stroke-width="1.8" stroke-dasharray="4.1,2" />
<line x1="627.3" y1="361.3" x2="627.3" y2="376" stroke="#999" stroke-width="0.8" />
<path d="M449.5,331.2 C452,335 456,335.8 463.4,336.8 L618.8,355.9 C623,356.6 626,358.5 627.3,361.3" fill="none" stroke="#000" stroke-width="1.75"/>
<path d="M450,401.8 C453,405.5 457,406.4 465,407.6 L613.4,424.8 C620,425.8 625,428 627.3,431.5" fill="none" stroke="#000" stroke-width="1.75"/>
<path d="M450.47,329.2 L450.63,330.11 L450.83,331.03 L451.07,331.94 L451.36,332.86 L451.72,333.77 L452.15,334.69 L452.66,335.6 L453.26,336.51 L453.96,337.43 L454.78,338.34 L455.71,339.26 L456.78,340.17 L457.98,341.09 L459.33,342 L460.82,342.91 L462.46,343.83 L464.24,344.74 L466.16,345.66 L468.2,346.57 L470.35,347.49 L472.59,348.4 L474.9,349.31 L477.24,350.23 L479.59,351.14 L481.91,352.06 L484.16,352.97 L486.31,353.89 L488.32,354.8 L490.16,355.71 L491.78,356.63 L493.15,357.54 L494.25,358.46 L495.05,359.37 L495.54,360.29 L495.7,361.2 L495.54,362.11 L495.05,363.03 L494.25,363.94 L493.15,364.86 L491.78,365.77 L490.16,366.69 L488.32,367.6 L486.31,368.51 L484.16,369.43 L481.91,370.34 L479.59,371.26 L477.24,372.17 L474.9,373.09 L472.59,374 L470.35,374.91 L468.2,375.83 L466.16,376.74 L464.24,377.66 L462.46,378.57 L460.82,379.49 L459.33,380.4 L457.98,381.31 L456.78,382.23 L455.71,383.14 L454.78,384.06 L453.96,384.97 L453.26,385.89 L452.66,386.8 L452.15,387.71 L451.72,388.63 L451.36,389.54 L451.07,390.46 L450.83,391.37 L450.63,392.29 L450.47,393.2" fill="none" stroke="#F4626A" stroke-width="2.0" stroke-linecap="round"/>
<path d="M450.47,374.2 L450.63,375.11 L450.83,376.03 L451.07,376.94 L451.36,377.86 L451.72,378.77 L452.15,379.69 L452.66,380.6 L453.26,381.51 L453.96,382.43 L454.78,383.34 L455.71,384.26 L456.78,385.17 L457.98,386.09 L459.33,387 L460.82,387.91 L462.46,388.83 L464.24,389.74 L466.16,390.66 L468.2,391.57 L470.35,392.49 L472.59,393.4 L474.9,394.31 L477.24,395.23 L479.59,396.14 L481.91,397.06 L484.16,397.97 L486.31,398.89 L488.32,399.8 L490.16,400.71 L491.78,401.63 L493.15,402.54 L494.25,403.46 L495.05,404.37 L495.54,405.29 L495.7,406.2 L495.54,407.11 L495.05,408.03 L494.25,408.94 L493.15,409.86 L491.78,410.77 L490.16,411.69 L488.32,412.6 L486.31,413.51 L484.16,414.43 L481.91,415.34 L479.59,416.26 L477.24,417.17 L474.9,418.09 L472.59,419 L470.35,419.91 L468.2,420.83 L466.16,421.74 L464.24,422.66 L462.46,423.57 L460.82,424.49 L459.33,425.4 L457.98,426.31 L456.78,427.23 L455.71,428.14 L454.78,429.06 L453.96,429.97 L453.26,430.89 L452.66,431.8 L452.15,432.71 L451.72,433.63 L451.36,434.54 L451.07,435.46 L450.83,436.37 L450.63,437.29 L450.47,438.2" fill="none" stroke="#7F86F8" stroke-width="2.0" stroke-linecap="round"/>
<line x1="449.9" y1="489.6" x2="449.9" y2="271.7" stroke="#E97334" stroke-width="1.9" />
<path d="M449.9,268.7 L453.9,276.7 L449.9,272.3 L445.9,276.7 Z" fill="#E97334" stroke="#E97334" stroke-width="1.1" stroke-linejoin="round"/>
<text x="434.4" y="281.4" font-size="13.9" fill="#E97334" stroke="#E97334" stroke-width="0.3" font-family="Liberation Serif" ><tspan font-style="italic">E</tspan></text>
<text x="460" y="365.3" font-size="12.2" fill="#F4626A" stroke="#F4626A" stroke-width="0.3" font-family="Liberation Serif" textLength="16.3" lengthAdjust="spacingAndGlyphs" ><tspan font-style="italic">OX</tspan></text>
<text x="460" y="410.3" font-size="12.2" fill="#7F86F8" stroke="#7F86F8" stroke-width="0.7" font-family="Liberation Serif" textLength="25" lengthAdjust="spacingAndGlyphs" ><tspan font-style="italic">RED</tspan></text>
<text x="434.2" y="357.2" font-size="13.5" fill="#FF2020" stroke="#FF2020" stroke-width="0.3" font-family="Liberation Serif" ><tspan font-style="italic">e</tspan><tspan font-size="10" dx="1.2" dy="-3.8">−</tspan></text>
<line x1="434.2" y1="359.8" x2="454.6" y2="359.8" stroke="#FF2020" stroke-width="1.9" stroke-dasharray="1.7,1.5" />
<path d="M457.6,359.8 L450.2,363.9 L453.7,359.8 L450.2,355.7 Z" fill="#FF2020" stroke="#FF2020" stroke-width="0.7" stroke-linejoin="round"/>
<circle cx="423.3" cy="352.3" r="7.3" fill="none" stroke="#4770C6" stroke-width="1.7"/>
<line x1="420" y1="352.3" x2="426.6" y2="352.3" stroke="#4770C6" stroke-width="1.5" />
<circle cx="656" cy="397.8" r="7.3" fill="none" stroke="#4770C6" stroke-width="1.7"/>
<line x1="652.7" y1="397.8" x2="659.3" y2="397.8" stroke="#4770C6" stroke-width="1.5" />
<line x1="656" y1="394.5" x2="656" y2="401.1" stroke="#4770C6" stroke-width="1.5" />
<text x="422.6" y="480" font-size="12.5" fill="#fff" text-anchor="middle" font-family="Liberation Sans" font-weight="bold" >OE</text>
<text x="656.6" y="479.6" font-size="12.5" fill="#fff" text-anchor="middle" font-family="Liberation Sans" font-weight="bold" >OE</text>
<text x="523" y="359" font-size="12.6" fill="#111" stroke="#111" stroke-width="0.3" font-family="Liberation Serif" textLength="12.6" lengthAdjust="spacingAndGlyphs" ><tspan font-style="italic">E</tspan><tspan font-size="10" dy="2.9">C</tspan></text>
<text x="523" y="410" font-size="12.6" fill="#111" stroke="#111" stroke-width="0.3" font-family="Liberation Serif" textLength="12.6" lengthAdjust="spacingAndGlyphs" ><tspan font-style="italic">E</tspan><tspan font-size="10" dy="2.9">V</tspan></text>
<line x1="557.2" y1="342" x2="557.2" y2="378.6" stroke="#000" stroke-width="1.7" />
<path d="M557.2,339 L561.4,346.7 L557.2,343.3 L553,346.7 Z" fill="#000" stroke="#000" stroke-width="0.9" stroke-linejoin="round"/>
<path d="M557.2,381.6 L553,373.9 L557.2,377.3 L561.4,373.9 Z" fill="#000" stroke="#000" stroke-width="0.9" stroke-linejoin="round"/>
<text x="563.5" y="369.7" font-size="13.2" fill="#222" stroke="#222" stroke-width="0.3" font-family="Liberation Serif" textLength="29.7" lengthAdjust="spacingAndGlyphs" ><tspan font-style="italic">e</tspan>|Δ<tspan font-style="italic">φ</tspan>|</text>
<line x1="463.9" y1="473.3" x2="477" y2="473.3" stroke="#333" stroke-width="1.5" />
<path d="M477,473.3 L479.08,469.7 L483.25,476.9 L487.42,469.7 L491.58,476.9 L495.75,469.7 L499.92,476.9 L502,473.3" fill="none" stroke="#333" stroke-width="1.5" stroke-linejoin="miter"/>
<line x1="502" y1="473.3" x2="523.8" y2="473.3" stroke="#333" stroke-width="1.5" />
<rect x="523.8" y="466.6" width="27.5" height="13" fill="none" stroke="#333" stroke-width="1.5"/>
<path d="M525.8,473.1 L527.76,469.5 L531.67,476.7 L535.59,469.5 L539.51,476.7 L543.42,469.5 L547.34,476.7 L549.3,473.1" fill="none" stroke="#333" stroke-width="1.5" stroke-linejoin="miter"/>
<line x1="530.95" y1="483.1" x2="548.27" y2="458.3" stroke="#333" stroke-width="1.5" />
<path d="M548.27,458.3 L547.54,463.89 L546.44,460.92 L543.28,460.91 Z" fill="#333" stroke="#333" stroke-width="0.5" stroke-linejoin="round"/>
<line x1="551.3" y1="473.3" x2="572.9" y2="473.3" stroke="#333" stroke-width="1.5" />
<path d="M572.9,473.3 L574.92,469.7 L578.97,476.9 L583.02,469.7 L587.07,476.9 L591.12,469.7 L595.17,476.9 L597.2,473.3" fill="none" stroke="#333" stroke-width="1.5" stroke-linejoin="miter"/>
<line x1="597.2" y1="473.3" x2="610.7" y2="473.3" stroke="#333" stroke-width="1.5" />
<text x="-0.3" y="550.7" font-size="16" fill="#000" text-anchor="start" font-family="Liberation Sans" font-weight="bold" >e</text>
<defs><clipPath id="ce"><rect x="57" y="542.8" width="248.5" height="208.9"/></clipPath></defs>
<g clip-path="url(#ce)">
<path d="M150,738.8 C159.17,738.78 194.83,738.87 205,738.7 C215.17,738.53 209.02,738.25 211,737.8 C212.98,737.35 214.7,736.97 216.9,736 C219.1,735.03 222.12,733.97 224.2,732 C226.28,730.03 227.87,727.92 229.4,724.2 C230.93,720.48 232.38,713.73 233.4,709.7 C234.42,705.67 234.4,708.28 235.5,700 C236.6,691.72 238.57,673.25 240,660 C241.43,646.75 242.85,633.83 244.1,620.5 C245.35,607.17 246.48,593.08 247.5,580 C248.52,566.92 249.75,548.33 250.2,542" fill="none" stroke="#7511E8" stroke-width="2.0" stroke-linejoin="round" stroke-linecap="round" />
<path d="M180,738.8 C187,738.78 214.25,738.85 222,738.7 C229.75,738.55 225.05,738.25 226.5,737.9 C227.95,737.55 228.68,737.58 230.7,736.6 C232.72,735.62 236.4,734.07 238.6,732 C240.8,729.93 242.37,727.7 243.9,724.2 C245.43,720.7 246.7,715.03 247.8,711 C248.9,706.97 249.3,708.5 250.5,700 C251.7,691.5 253.55,673.25 255,660 C256.45,646.75 258.17,633.83 259.2,620.5 C260.23,607.17 260.63,593.08 261.2,580 C261.77,566.92 262.37,548.33 262.6,542" fill="none" stroke="#7511E8" stroke-width="2.0" stroke-linejoin="round" stroke-linecap="round" />
<path d="M57.8,737.12 L58.6,737.64 L59.4,737.46 L60.2,736.69 L61,736.66 L61.8,736.71 L62.6,737.28 L63.4,736.8 L64.2,737.6 L65,737.52 L65.8,738.16 L66.6,737.97 L67.4,736.83 L68.2,737.09 L69,736.89 L69.8,737.62 L70.6,737.48 L71.4,736.7 L72.2,737.69 L73,737.1 L73.8,737.33 L74.6,737.87 L75.4,736.99 L76.2,737.44 L77,737.77 L77.8,738.17 L78.6,737.27 L79.4,736.84 L80.2,736.66 L81,737.82 L81.8,738 L82.6,737.71 L83.4,737.53 L84.2,737.94 L85,737.36 L85.8,736.7 L86.6,737.64 L87.4,737.92 L88.2,737.22 L89,736.64 L89.8,736.87 L90.6,736.69 L91.4,736.81 L92.2,737.23 L93,736.73 L93.8,737.48 L94.6,737.91 L95.4,737.05 L96.2,737.17 L97,738.13 L97.8,736.88 L98.6,736.97 L99.4,737.54 L100.2,736.61 L101,737.19 L101.8,738.12 L102.6,737.42 L103.4,737.68 L104.2,738.04 L105,738 L105.8,737.23 L106.6,736.77 L107.4,736.7 L108.2,736.93 L109,737.14 L109.8,736.6 L110.6,736.76 L111.4,736.64 L112.2,737.58 L113,737 L113.8,737.18 L114.6,737.96 L115.4,737.35 L116.2,736.74 L117,737.15 L117.8,737.93 L118.6,736.64 L119.4,737.45 L120.2,737.47 L121,737.44 L121.8,737.98 L122.6,737.02 L123.4,736.87 L124.2,737.45 L125,737.13 L125.8,737.9 L126.6,737.96 L127.4,737.91 L128.2,736.96 L129,737.17 L129.8,736.64 L130.6,737.01 L131.4,738.13 L132.2,738.1 L133,738.13 L133.8,736.95 L134.6,736.91 L135.4,737.6 L136.2,737.94 L137,737.64 L137.8,736.74 L138.6,738.06 L139.4,737.8 L140.2,736.89 L141,737.13 L141.8,738.15 L142.6,737.24 L143.4,737.76 L144.2,736.8 L145,738.05 L145.8,736.83 L146.6,738.17 L147.4,737.16 L148.2,736.81 L149,738.15 L149.8,737.44 L150.6,737.29 L151.4,737.92 L152.2,737 L153,736.98 L153.8,737.01 L154.6,736.81 L155.4,737.17 L156.2,737.53 L157,737.27 L157.8,737.4 L158.6,737.44 L159.4,737.3 L160.2,736.61 L161,736.88 L161.8,737.76 L162.6,737.12 L163.4,737.49 L164.2,736.77 L165,737 L165.8,737.84 L166.6,737.5 L167.4,738.06 L168.2,737.58 L169,737.42 L169.8,737.32 L170.6,737.36 L171.4,737.72 L172.2,738.11 L173,737.5 L173.8,737.94 L174.6,736.79 L175.4,736.72 L176.2,736.72 L177,737.85 L177.8,736.85 L178.6,737.66 L179.4,738.01 L180.2,736.95 L181,737.24 L181.8,738.18 L182.6,736.86 L183.4,737.42 L184.2,736.91 L185,737.76 L185.8,737.49 L186.6,736.63 L187.4,737.6 L188.2,736.7 L189,737.86 L189.8,736.77 L190.6,736.66 L191.4,737.03 L192.2,737.28 L193,737.91 L193.8,736.84 L194.6,737.51 L195.4,736.74 L196.2,737.7 L197,736.72 L197.8,737.62 L198.6,736.73 L199.4,736.71 L200.2,737.33 L201,737.48 L201.8,737.03 L202.6,737.44 L203.4,736.78 L204.2,736.68 L205,737.1 L205.8,737.82 L206.6,737.4 L207.4,737.16 L208.2,737 L209,737.77 L209.8,736.9 L210.6,738.1 L211.4,737.91 L212.2,737.39 L213,737.23 L213.8,737.7 L214.6,737.15 L215.4,737.73 L216.2,737.25 L217,736.69 L217.8,736.71 L218.6,737.01 L219.4,736.74 L220.2,737.99 L221,737.05 L221.8,737.07 L222.6,736.85 L223.4,737.02 L224.2,738.16 L225,736.99 L225.8,737.1 L226.6,736.6 L227.4,737.36 L228.2,736.92 L229,736.61 L229.8,736.74 L230.6,736.67 L231.4,737.09 L232.2,737.54 L233,737.8 L233.8,737.75 L234.6,737.22 L235.4,738.18 L236.2,737.76 L237,736.67 L237.8,738.03 L238.6,737.77 L239.4,736.82 L240.2,737.41 L240.2,742.84 L239.4,742.34 L238.6,742.8 L237.8,742.5 L237,742.84 L236.2,742.53 L235.4,741.74 L234.6,742.02 L233.8,742.91 L233,742.55 L232.2,742.35 L231.4,741.87 L230.6,741.54 L229.8,742.14 L229,741.92 L228.2,742.31 L227.4,742.3 L226.6,742.11 L225.8,742.07 L225,743.05 L224.2,742.38 L223.4,743.04 L222.6,742.21 L221.8,742.24 L221,741.89 L220.2,742.57 L219.4,742.85 L218.6,741.76 L217.8,742.69 L217,741.71 L216.2,742.06 L215.4,742.52 L214.6,742.83 L213.8,743.07 L213,742.31 L212.2,742.84 L211.4,742.19 L210.6,741.67 L209.8,742.26 L209,742.38 L208.2,741.52 L207.4,741.53 L206.6,741.78 L205.8,741.96 L205,741.99 L204.2,741.82 L203.4,741.76 L202.6,741.88 L201.8,741.71 L201,742.98 L200.2,742.04 L199.4,742.88 L198.6,742.87 L197.8,742.78 L197,743 L196.2,742.18 L195.4,741.59 L194.6,742.62 L193.8,742.97 L193,741.91 L192.2,742.96 L191.4,741.71 L190.6,742.75 L189.8,741.92 L189,743.05 L188.2,743.08 L187.4,742.32 L186.6,742.03 L185.8,742.2 L185,741.53 L184.2,742.01 L183.4,742.04 L182.6,742.19 L181.8,742.83 L181,742.28 L180.2,743.02 L179.4,743.05 L178.6,741.73 L177.8,742.65 L177,742.94 L176.2,742.57 L175.4,741.89 L174.6,742.21 L173.8,741.72 L173,743.01 L172.2,741.92 L171.4,742.9 L170.6,743.01 L169.8,742.35 L169,742.61 L168.2,742.31 L167.4,742.21 L166.6,742.72 L165.8,742.31 L165,741.94 L164.2,742.4 L163.4,742.75 L162.6,742.33 L161.8,742.39 L161,742.26 L160.2,742.78 L159.4,741.79 L158.6,741.53 L157.8,742.35 L157,742.97 L156.2,742.95 L155.4,742.23 L154.6,742.96 L153.8,742.17 L153,742.44 L152.2,741.97 L151.4,741.84 L150.6,742.89 L149.8,742.99 L149,742.54 L148.2,741.52 L147.4,742.38 L146.6,742.55 L145.8,742.82 L145,742.79 L144.2,741.74 L143.4,741.77 L142.6,743.01 L141.8,742.13 L141,742.78 L140.2,742.76 L139.4,742.26 L138.6,742.75 L137.8,742.56 L137,742.78 L136.2,742.27 L135.4,742.94 L134.6,741.83 L133.8,741.86 L133,742.08 L132.2,743.08 L131.4,742.22 L130.6,742.61 L129.8,741.95 L129,741.55 L128.2,742.33 L127.4,742.68 L126.6,742.79 L125.8,743.08 L125,741.86 L124.2,742.75 L123.4,742.74 L122.6,742.09 L121.8,742.61 L121,743.07 L120.2,741.54 L119.4,741.73 L118.6,743.02 L117.8,741.76 L117,741.92 L116.2,741.66 L115.4,742.27 L114.6,743.09 L113.8,741.7 L113,742.06 L112.2,741.74 L111.4,742.9 L110.6,742.08 L109.8,741.74 L109,741.58 L108.2,741.76 L107.4,741.61 L106.6,742.51 L105.8,742.14 L105,742.78 L104.2,742.75 L103.4,741.59 L102.6,742.49 L101.8,742.6 L101,742.41 L100.2,742.17 L99.4,741.92 L98.6,742.28 L97.8,741.87 L97,741.74 L96.2,742.91 L95.4,742.16 L94.6,742.88 L93.8,742.91 L93,742.22 L92.2,742.89 L91.4,741.9 L90.6,742.73 L89.8,741.69 L89,742.24 L88.2,742.57 L87.4,741.96 L86.6,743.09 L85.8,742.62 L85,742.56 L84.2,743.01 L83.4,742.23 L82.6,742.45 L81.8,742 L81,742.42 L80.2,742.57 L79.4,742.28 L78.6,742.71 L77.8,741.69 L77,741.96 L76.2,742.9 L75.4,742.42 L74.6,742.62 L73.8,741.98 L73,742.44 L72.2,742.18 L71.4,741.83 L70.6,741.6 L69.8,742.1 L69,742.43 L68.2,742.81 L67.4,741.69 L66.6,741.96 L65.8,741.57 L65,742.13 L64.2,743.02 L63.4,741.86 L62.6,742.82 L61.8,741.65 L61,742.19 L60.2,742.31 L59.4,742.09 L58.6,741.62 L57.8,741.74 Z" fill="#FF7F0F"/>
<path d="M215,739.5 C216.3,739.18 219.73,738.85 222.8,737.6 C225.87,736.35 230.55,734.23 233.4,732 C236.25,729.77 237.93,727.48 239.9,724.2 C241.87,720.92 243.67,716.25 245.2,712.3 C246.73,708.35 247.55,709.22 249.1,700.5 C250.65,691.78 252.88,673.33 254.5,660 C256.12,646.67 257.5,633.83 258.8,620.5 C260.1,607.17 261.22,593.08 262.3,580 C263.38,566.92 264.8,548.33 265.3,542" fill="none" stroke="#FF7F0F" stroke-width="2.5" stroke-linejoin="round" stroke-linecap="round" />
<path d="M228,740 C229.17,739.97 233.02,740.03 235,739.8 C236.98,739.57 237.77,739.9 239.9,738.6 C242.03,737.3 245.6,734.85 247.8,732 C250,729.15 251.67,725.22 253.1,721.5 C254.53,717.78 255.48,713.28 256.4,709.7 C257.32,706.12 257.58,708.28 258.6,700 C259.62,691.72 261.22,673.25 262.5,660 C263.78,646.75 265.3,633.83 266.3,620.5 C267.3,607.17 267.83,593.08 268.5,580 C269.17,566.92 270,548.33 270.3,542" fill="none" stroke="#FF7F0F" stroke-width="2.5" stroke-linejoin="round" stroke-linecap="round" />
</g>
<rect x="57" y="542.8" width="248.5" height="208.9" fill="none" stroke="#2b2b2b" stroke-width="1.7"/>
<text x="51.3" y="546.8" font-size="13.8" fill="#1a1a1a" text-anchor="end" font-family="Liberation Sans">30</text>
<line x1="57" y1="607.9" x2="62" y2="607.9" stroke="#2b2b2b" stroke-width="1.6" />
<text x="51.3" y="611.9" font-size="13.8" fill="#1a1a1a" text-anchor="end" font-family="Liberation Sans">20</text>
<line x1="57" y1="673.3" x2="62" y2="673.3" stroke="#2b2b2b" stroke-width="1.6" />
<text x="51.3" y="677.3" font-size="13.8" fill="#1a1a1a" text-anchor="end" font-family="Liberation Sans">10</text>
<line x1="57" y1="738.8" x2="62" y2="738.8" stroke="#2b2b2b" stroke-width="1.6" />
<text x="51.3" y="742.8" font-size="13.8" fill="#1a1a1a" text-anchor="end" font-family="Liberation Sans">0</text>
<text x="56" y="768.2" font-size="13.8" fill="#1a1a1a" text-anchor="middle" font-family="Liberation Sans">-6</text>
<line x1="97.6" y1="751.7" x2="97.6" y2="747" stroke="#2b2b2b" stroke-width="1.6" />
<text x="97.6" y="768.2" font-size="13.8" fill="#1a1a1a" text-anchor="middle" font-family="Liberation Sans">-4</text>
<line x1="139.2" y1="751.7" x2="139.2" y2="747" stroke="#2b2b2b" stroke-width="1.6" />
<text x="139.2" y="768.2" font-size="13.8" fill="#1a1a1a" text-anchor="middle" font-family="Liberation Sans">-2</text>
<line x1="180.8" y1="751.7" x2="180.8" y2="747" stroke="#2b2b2b" stroke-width="1.6" />
<text x="180.8" y="768.2" font-size="13.8" fill="#1a1a1a" text-anchor="middle" font-family="Liberation Sans">0</text>
<line x1="222.4" y1="751.7" x2="222.4" y2="747" stroke="#2b2b2b" stroke-width="1.6" />
<text x="222.4" y="768.2" font-size="13.8" fill="#1a1a1a" text-anchor="middle" font-family="Liberation Sans">2</text>
<line x1="264" y1="751.7" x2="264" y2="747" stroke="#2b2b2b" stroke-width="1.6" />
<text x="264" y="768.2" font-size="13.8" fill="#1a1a1a" text-anchor="middle" font-family="Liberation Sans">4</text>
<text x="305.6" y="768.2" font-size="13.8" fill="#1a1a1a" text-anchor="middle" font-family="Liberation Sans">6</text>
<text x="181.1" y="790.6" font-size="13.8" fill="#1a1a1a" text-anchor="middle" font-family="Liberation Sans">Potential (V)</text>
<text transform="translate(30.6,647.6) rotate(-90)" font-size="14" fill="#1a1a1a" text-anchor="middle" font-family="Liberation Sans" textLength="161.7" lengthAdjust="spacingAndGlyphs">Current density (mA cm<tspan font-size="9.5" dy="-5.5">-2</tspan><tspan dy="5.5">)</tspan></text>
<path d="M206.8,554 C206.77,556.67 206.68,564 206.6,570 C206.52,576 206.42,584.12 206.3,590 C206.18,595.88 206.08,600.83 205.9,605.3 C205.72,609.77 205.75,614.28 205.2,616.8 C204.65,619.32 204.8,619.67 202.6,620.4 C200.4,621.13 194.98,620.83 192,621.2 C189.02,621.57 186.8,621.58 184.7,622.6 C182.6,623.62 181.15,625.47 179.4,627.3 C177.65,629.13 175.87,632.05 174.2,633.6 C172.53,635.15 170.98,636.27 169.4,636.6 C167.82,636.93 166.18,635.22 164.7,635.6 C163.22,635.98 162.07,637.13 160.5,638.9 C158.93,640.67 157.57,643.48 155.3,646.2 C153.03,648.92 149.7,652.65 146.9,655.2 C144.1,657.75 141.32,659.57 138.5,661.5 C135.68,663.43 132.82,665.32 130,666.8 C127.18,668.28 124.4,669.38 121.6,670.4 C118.8,671.42 115.82,672.45 113.2,672.9 C110.58,673.35 108.35,673.15 105.9,673.1 C103.45,673.05 99.98,672.87 98.5,672.6 C97.02,672.33 97.12,673.17 97,671.5 C96.88,669.83 97.37,665.85 97.8,662.6 C98.23,659.35 98.95,655.52 99.6,652 C100.25,648.48 100.65,644.65 101.7,641.5 C102.75,638.35 104.33,635.37 105.9,633.1 C107.47,630.83 108.83,629.47 111.1,627.9 C113.37,626.33 116.35,624.67 119.5,623.7 C122.65,622.73 126.48,622.48 130,622.1 C133.52,621.72 135.6,621.6 140.6,621.4 C145.6,621.2 151.77,621.03 160,620.9 C168.23,620.77 182.5,620.67 190,620.6 C197.5,620.53 202.5,620.52 205,620.5" fill="none" stroke="#7511E8" stroke-width="2.3" stroke-linejoin="round" stroke-linecap="round" />
<line x1="208.6" y1="554" x2="205.8" y2="614" stroke="#7511E8" stroke-width="2.0" />
<line x1="107.4" y1="686" x2="107.5" y2="641" stroke="#FF7F0F" stroke-width="2.0" stroke-dasharray="1.3,0.8" />
<path d="M107.5,642 C107.62,640.67 107.87,636.17 108.2,634 C108.53,631.83 109.02,630.65 109.5,629 C109.98,627.35 110.13,625.4 111.1,624.1 C112.07,622.8 113.02,621.83 115.3,621.2 C117.58,620.57 119.02,620.48 124.8,620.3 C130.58,620.12 140.8,620.13 150,620.1 C159.2,620.07 171.67,620.08 180,620.1 C188.33,620.12 195.65,620.28 200,620.2 C204.35,620.12 204.5,620.97 206.1,619.6 C207.7,618.23 208.87,615.27 209.6,612 C210.33,608.73 210.28,603.67 210.5,600 C210.72,596.33 210.83,591.67 210.9,590" fill="none" stroke="#FF7F0F" stroke-width="2.2" stroke-linejoin="round" stroke-linecap="round" />
<line x1="210.9" y1="590" x2="211.7" y2="554" stroke="#FF7F0F" stroke-width="1.8" stroke-dasharray="1.3,0.8" />
<path d="M121.6,686.5 C121.78,684.27 122.25,677.97 122.7,673.1 C123.15,668.23 123.6,661.68 124.3,657.3 C125,652.92 125.77,649.78 126.9,646.8 C128.03,643.82 129.53,641.23 131.1,639.4 C132.67,637.57 134.02,636.7 136.3,635.8 C138.58,634.9 141.98,634.42 144.8,634 C147.62,633.58 151.1,633.53 153.2,633.3 C155.3,633.07 156.18,632.98 157.4,632.6 C158.62,632.22 159.1,632.05 160.5,631 C161.9,629.95 163.7,627.62 165.8,626.3 C167.9,624.98 170.48,623.9 173.1,623.1 C175.72,622.3 177.85,621.88 181.5,621.5 C185.15,621.12 190.78,620.97 195,620.8 C199.22,620.63 204.48,620.98 206.8,620.5 C209.12,620.02 208.03,619.57 208.9,617.9 C209.77,616.23 211.25,612.98 212,610.5 C212.75,608.02 213.07,606.42 213.4,603 C213.73,599.58 213.85,594.67 214,590 C214.15,585.33 214.22,581 214.3,575 C214.38,569 214.47,557.5 214.5,554" fill="none" stroke="#FF7F0F" stroke-width="2.2" stroke-linejoin="round" stroke-linecap="round" />
<path d="M207.1,620 C207.62,619.58 209.1,618.92 210.2,617.5 C211.3,616.08 212.78,613.85 213.7,611.5 C214.62,609.15 215.2,607.27 215.7,603.4 C216.2,599.53 216.45,593.87 216.7,588.3 C216.95,582.73 217.12,573.05 217.2,570" fill="none" stroke="#FF7F0F" stroke-width="2.0" stroke-linejoin="round" stroke-linecap="round" />
<line x1="217.2" y1="570" x2="217.4" y2="554" stroke="#FF7F0F" stroke-width="1.8" stroke-dasharray="1.3,0.8" />
<line x1="89.2" y1="553.3" x2="89.2" y2="687.4" stroke="#2b2b2b" stroke-width="1.6" />
<line x1="88.4" y1="686.7" x2="228.4" y2="686.7" stroke="#2b2b2b" stroke-width="1.6" />
<line x1="89.2" y1="576" x2="93.8" y2="576" stroke="#2b2b2b" stroke-width="1.6" />
<text x="83.6" y="580.3" font-size="12.6" fill="#1a1a1a" text-anchor="end" font-family="Liberation Sans">0.2</text>
<line x1="89.2" y1="620.5" x2="93.8" y2="620.5" stroke="#2b2b2b" stroke-width="1.6" />
<text x="83.6" y="624.8" font-size="12.6" fill="#1a1a1a" text-anchor="end" font-family="Liberation Sans">0.0</text>
<line x1="89.2" y1="664.8" x2="93.8" y2="664.8" stroke="#2b2b2b" stroke-width="1.6" />
<text x="83.6" y="669.1" font-size="12.6" fill="#1a1a1a" text-anchor="end" font-family="Liberation Sans">-0.2</text>
<text x="89.2" y="703.6" font-size="12.6" fill="#1a1a1a" text-anchor="middle" font-family="Liberation Sans">-12</text>
<line x1="122.2" y1="686.7" x2="122.2" y2="682.3" stroke="#2b2b2b" stroke-width="1.6" />
<text x="122.2" y="703.6" font-size="12.6" fill="#1a1a1a" text-anchor="middle" font-family="Liberation Sans">-8</text>
<line x1="156.3" y1="686.7" x2="156.3" y2="682.3" stroke="#2b2b2b" stroke-width="1.6" />
<text x="156.3" y="703.6" font-size="12.6" fill="#1a1a1a" text-anchor="middle" font-family="Liberation Sans">-4</text>
<line x1="190.3" y1="686.7" x2="190.3" y2="682.3" stroke="#2b2b2b" stroke-width="1.6" />
<text x="190.3" y="703.6" font-size="12.6" fill="#1a1a1a" text-anchor="middle" font-family="Liberation Sans">0</text>
<line x1="224.2" y1="686.7" x2="224.2" y2="682.3" stroke="#2b2b2b" stroke-width="1.6" />
<text x="224.2" y="703.6" font-size="12.6" fill="#1a1a1a" text-anchor="middle" font-family="Liberation Sans">4</text>
<line x1="102.5" y1="581.6" x2="125.5" y2="581.6" stroke="#7511E8" stroke-width="2.3" />
<circle cx="114.6" cy="581.6" r="2.1" fill="#7511E8"/>
<line x1="102.5" y1="598.3" x2="125.5" y2="598.3" stroke="#FF7F0F" stroke-width="2.3" />
<circle cx="114.6" cy="598.3" r="2.1" fill="#FF7F0F"/>
<text x="129.8" y="587.6" font-size="12.2" fill="#1a1a1a" font-family="Liberation Sans"><tspan fill="#9A4CF0">Pt</tspan>/Ta<tspan font-size="8.6" dy="3">2</tspan><tspan dy="-3">O</tspan><tspan font-size="8.6" dy="3">5</tspan><tspan dy="-3">/Ta</tspan></text>
<text x="129.8" y="603" font-size="12.2" fill="#1a1a1a" font-family="Liberation Sans"><tspan fill="#FF7F0F">Cu</tspan>/Ta<tspan font-size="8.6" dy="3">2</tspan><tspan dy="-3">O</tspan><tspan font-size="8.6" dy="3">5</tspan><tspan dy="-3">/Ta</tspan></text>
<path d="M190.5,629.4 C189.58,630.83 187.58,635.4 185,638 C182.42,640.6 177.66,643.51 175,645 C172.34,646.49 170.01,646.64 169.01,646.97" fill="none" stroke="#B0B0B0" stroke-width="2.2"/>
<path d="M161.6,649.4 L169.76,642.83 L169.61,646.77 L172.07,649.86 Z" fill="#B0B0B0" stroke="#B0B0B0" stroke-width="0.5" stroke-linejoin="round"/>
<text x="186.3" y="657.8" font-size="13.5" fill="#111" text-anchor="start" font-family="Liberation Sans" font-weight="bold" >II</text>
<path d="M249.4,741.6 C250.57,740.55 254.5,737.82 256.4,735.3 C258.3,732.78 259.73,729.38 260.8,726.5 C261.87,723.62 262.43,719.67 262.8,718 C263.17,716.33 263,716.75 263.04,716.5" fill="none" stroke="#B0B0B0" stroke-width="2.2"/>
<path d="M264.3,708.8 L266.37,719.07 L262.94,717.12 L259.07,717.88 Z" fill="#B0B0B0" stroke="#B0B0B0" stroke-width="0.5" stroke-linejoin="round"/>
<text x="269.9" y="707.1" font-size="13.5" fill="#111" text-anchor="start" font-family="Liberation Sans" font-weight="bold" >I</text>
<text x="369.6" y="548.3" font-size="16" fill="#000" text-anchor="start" font-family="Liberation Sans" font-weight="bold" >f</text>
<defs><clipPath id="cf"><rect x="424" y="542.6" width="247" height="208.6"/></clipPath></defs>
<g clip-path="url(#cf)">
<path d="M466.8,752 C467.08,748.62 467.75,738.62 468.5,731.7 C469.25,724.78 470.25,717.55 471.3,710.5 C472.35,703.45 473.4,695.75 474.8,689.4 C476.2,683.05 477.7,677.35 479.7,672.4 C481.7,667.45 483.97,662.98 486.8,659.7 C489.63,656.42 492.7,654.57 496.7,652.7 C500.7,650.83 505.87,649.43 510.8,648.5 C515.73,647.57 520.67,647.45 526.3,647.1 C531.93,646.75 540.82,646.45 544.6,646.4 C548.38,646.35 548.27,646.73 549,646.8" fill="none" stroke="#17C98C" stroke-width="2.7" stroke-linejoin="round" stroke-linecap="round" />
<path d="M472.4,752 C472.68,748.62 473.23,738.13 474.1,731.7 C474.97,725.27 476.18,718.82 477.6,713.4 C479.02,707.98 480.6,703.2 482.6,699.2 C484.6,695.2 486.78,692.22 489.6,689.4 C492.42,686.58 495.97,684.65 499.5,682.3 C503.03,679.95 507.27,677.65 510.8,675.3 C514.33,672.95 517.42,671.03 520.7,668.2 C523.98,665.37 527.45,661.35 530.5,658.3 C533.55,655.25 536.65,651.77 539,649.9 C541.35,648.03 542.93,647.65 544.6,647.1 C546.27,646.55 548.27,646.68 549,646.6" fill="none" stroke="#17C98C" stroke-width="2.7" stroke-linejoin="round" stroke-linecap="round" />
<path d="M546,646.8 C547.68,646.45 552.8,645.63 556.1,644.7 C559.4,643.77 562.57,642.93 565.8,641.2 C569.03,639.47 572.73,637.3 575.5,634.3 C578.27,631.3 580.43,627.83 582.4,623.2 C584.37,618.57 585.9,613.43 587.3,606.5 C588.7,599.57 589.88,592.35 590.8,581.6 C591.72,570.85 592.47,548.6 592.8,542" fill="none" stroke="#17C98C" stroke-width="2.7" stroke-linejoin="round" stroke-linecap="round" />
<path d="M546,646.8 C548.33,646.72 555.55,646.42 560,646.3 C564.45,646.18 568.27,646.72 572.7,646.1 C577.13,645.48 582.67,644.57 586.6,642.6 C590.53,640.63 593.65,637.77 596.3,634.3 C598.95,630.83 600.77,626.88 602.5,621.8 C604.23,616.72 605.53,611.65 606.7,603.8 C607.87,595.95 608.73,585 609.5,574.7 C610.27,564.4 611,547.45 611.3,542" fill="none" stroke="#17C98C" stroke-width="2.7" stroke-linejoin="round" stroke-linecap="round" />
<path d="M488.5,752 C488.75,747.33 489.33,732.67 490,724 C490.67,715.33 491.5,707.33 492.5,700 C493.5,692.67 494.58,685.83 496,680 C497.42,674.17 499,669.17 501,665 C503,660.83 505.17,657.5 508,655 C510.83,652.5 513.5,651.25 518,650 C522.5,648.75 529.83,648.03 535,647.5 C540.17,646.97 546.67,646.92 549,646.8" fill="none" stroke="#B35CF7" stroke-width="2.7" stroke-linejoin="round" stroke-linecap="round" />
<path d="M490.3,752 C490.9,749.32 492.37,740.47 493.9,735.9 C495.43,731.33 497.15,728.6 499.5,724.6 C501.85,720.6 505.18,716.13 508,711.9 C510.82,707.67 514.05,703.18 516.4,699.2 C518.75,695.22 520.22,691.98 522.1,688 C523.98,684.02 525.82,679.3 527.7,675.3 C529.58,671.3 531.52,667.53 533.4,664 C535.28,660.47 537.13,656.68 539,654.1 C540.87,651.52 542.93,649.75 544.6,648.5 C546.27,647.25 548.27,646.92 549,646.6" fill="none" stroke="#B35CF7" stroke-width="2.7" stroke-linejoin="round" stroke-linecap="round" />
<path d="M546,646.8 C547.68,646.22 552.57,644.93 556.1,643.3 C559.63,641.67 563.97,639.43 567.2,637 C570.43,634.57 573.2,631.93 575.5,628.7 C577.8,625.47 579.38,621.98 581,617.6 C582.62,613.22 584.03,608.4 585.2,602.4 C586.37,596.4 587.07,591.67 588,581.6 C588.93,571.53 590.33,548.6 590.8,542" fill="none" stroke="#B35CF7" stroke-width="2.7" stroke-linejoin="round" stroke-linecap="round" />
<path d="M546,646.8 C547.83,646.72 553,646.53 557,646.3 C561,646.07 565.53,646.25 570,645.4 C574.47,644.55 579.88,643.28 583.8,641.2 C587.72,639.12 590.83,636.6 593.5,632.9 C596.17,629.2 598.18,624.08 599.8,619 C601.42,613.92 602.17,609.78 603.2,602.4 C604.23,595.02 605.18,584.77 606,574.7 C606.82,564.63 607.75,547.45 608.1,542" fill="none" stroke="#B35CF7" stroke-width="2.7" stroke-linejoin="round" stroke-linecap="round" />
<path d="M481.9,752 C482.13,747.43 482.6,732.68 483.3,724.6 C484,716.52 485.05,710.08 486.1,703.5 C487.15,696.92 488.3,690.52 489.6,685.1 C490.9,679.68 492.25,675.23 493.9,671 C495.55,666.77 497.15,662.75 499.5,659.7 C501.85,656.65 504.72,654.45 508,652.7 C511.28,650.95 514.73,650.13 519.2,649.2 C523.67,648.27 529.83,647.5 534.8,647.1 C539.77,646.7 546.63,646.85 549,646.8" fill="none" stroke="#1010E8" stroke-width="2.7" stroke-linejoin="round" stroke-linecap="round" />
<path d="M484.7,752 C484.93,747.43 485.52,731.52 486.1,724.6 C486.68,717.68 487.27,714.73 488.2,710.5 C489.13,706.27 490.28,702.72 491.7,699.2 C493.12,695.68 494.7,692.45 496.7,689.4 C498.7,686.35 501.12,683.48 503.7,680.9 C506.28,678.32 509.37,676.48 512.2,673.9 C515.03,671.32 517.88,668.47 520.7,665.4 C523.52,662.33 526.52,658.2 529.1,655.5 C531.68,652.8 533.62,650.73 536.2,649.2 C538.78,647.67 542.47,646.73 544.6,646.3 C546.73,645.87 548.27,646.55 549,646.6" fill="none" stroke="#1010E8" stroke-width="2.7" stroke-linejoin="round" stroke-linecap="round" />
<path d="M546,646.8 C546.75,646.45 548.58,645.63 550.5,644.7 C552.42,643.77 555.18,642.93 557.5,641.2 C559.82,639.47 562.32,637.3 564.4,634.3 C566.48,631.3 568.5,627.37 570,623.2 C571.5,619.03 572.37,614.38 573.4,609.3 C574.43,604.22 575.38,599.63 576.2,592.7 C577.02,585.77 577.53,576.15 578.3,567.7 C579.07,559.25 580.38,546.28 580.8,542" fill="none" stroke="#1010E8" stroke-width="2.7" stroke-linejoin="round" stroke-linecap="round" />
<path d="M546,646.8 C547.67,646.58 552.7,645.85 556,645.5 C559.3,645.15 562.08,645.65 565.8,644.7 C569.52,643.75 574.83,642.23 578.3,639.8 C581.77,637.37 584.42,634.02 586.6,630.1 C588.78,626.18 590.02,622.07 591.4,616.3 C592.78,610.53 593.97,603.6 594.9,595.5 C595.83,587.4 596.35,576.62 597,567.7 C597.65,558.78 598.5,546.28 598.8,542" fill="none" stroke="#1010E8" stroke-width="2.7" stroke-linejoin="round" stroke-linecap="round" />
<path d="M487.1,752 C487.4,747.43 488.25,732.68 488.9,724.6 C489.55,716.52 490.17,710.08 491,703.5 C491.83,696.92 492.83,690.52 493.9,685.1 C494.97,679.68 496,675.23 497.4,671 C498.8,666.77 500.3,662.75 502.3,659.7 C504.3,656.65 506.33,654.57 509.4,652.7 C512.47,650.83 516,649.52 520.7,648.5 C525.4,647.48 532.88,646.87 537.6,646.6 C542.32,646.33 547.1,646.85 549,646.9" fill="none" stroke="#F54B4B" stroke-width="2.7" stroke-linejoin="round" stroke-linecap="round" />
<path d="M502,752 C502.17,747.43 502.48,732.68 503,724.6 C503.52,716.52 504.27,710.08 505.1,703.5 C505.93,696.92 506.93,690.75 508,685.1 C509.07,679.45 510.1,674.3 511.5,669.6 C512.9,664.9 514.4,660.07 516.4,656.9 C518.4,653.73 520.43,652.12 523.5,650.6 C526.57,649.08 530.55,648.4 534.8,647.8 C539.05,647.2 546.63,647.13 549,647" fill="none" stroke="#F54B4B" stroke-width="2.7" stroke-linejoin="round" stroke-linecap="butt" stroke-dasharray="2.2,0.35"/>
<path d="M540,647.6 C540.83,647.57 543.25,648 545,647.4 C546.75,646.8 548.65,646.18 550.5,644 C552.35,641.82 554.25,638.23 556.1,634.3 C557.95,630.37 559.75,624.57 561.6,620.4 C563.45,616.23 565.23,611.72 567.2,609.3 C569.17,606.88 571.1,606.13 573.4,605.9 C575.7,605.67 578.33,606.98 581,607.9 C583.67,608.82 586.15,610.47 589.4,611.4 C592.65,612.33 596.88,613.85 600.5,613.5 C604.12,613.15 608.18,611.38 611.1,609.3 C614.02,607.22 615.92,604.47 618,601 C620.08,597.53 621.98,592.88 623.6,588.5 C625.22,584.12 626.55,579.32 627.7,574.7 C628.85,570.08 629.75,566.25 630.5,560.8 C631.25,555.35 631.92,545.13 632.2,542" fill="none" stroke="#F54B4B" stroke-width="2.7" stroke-linejoin="round" stroke-linecap="round" />
<path d="M633.6,542 C633.37,546.28 632.83,558.78 632.2,567.7 C631.57,576.62 630.67,588.1 629.8,595.5 C628.93,602.9 628.27,607.02 627,612.1 C625.73,617.18 624.38,622.07 622.2,626 C620.02,629.93 617.52,633.05 613.9,635.7 C610.28,638.35 605.05,640.28 600.5,641.9 C595.95,643.52 592.38,644.48 586.6,645.4 C580.82,646.32 572.73,647.03 565.8,647.4 C558.87,647.77 548.47,647.57 545,647.6" fill="none" stroke="#F54B4B" stroke-width="2.7" stroke-linejoin="round" stroke-linecap="round" />
</g>
<rect x="424" y="542.6" width="247" height="208.6" fill="none" stroke="#2b2b2b" stroke-width="1.7"/>
<text x="418.9" y="755.06" font-size="13.8" fill="#1a1a1a" text-anchor="end" font-family="Liberation Sans">-30</text>
<line x1="424" y1="716.34" x2="429" y2="716.34" stroke="#2b2b2b" stroke-width="1.6" />
<text x="418.9" y="720.34" font-size="13.8" fill="#1a1a1a" text-anchor="end" font-family="Liberation Sans">-20</text>
<line x1="424" y1="681.62" x2="429" y2="681.62" stroke="#2b2b2b" stroke-width="1.6" />
<text x="418.9" y="685.62" font-size="13.8" fill="#1a1a1a" text-anchor="end" font-family="Liberation Sans">-10</text>
<line x1="424" y1="646.9" x2="429" y2="646.9" stroke="#2b2b2b" stroke-width="1.6" />
<text x="418.9" y="650.9" font-size="13.8" fill="#1a1a1a" text-anchor="end" font-family="Liberation Sans">0</text>
<line x1="424" y1="612.18" x2="429" y2="612.18" stroke="#2b2b2b" stroke-width="1.6" />
<text x="418.9" y="616.18" font-size="13.8" fill="#1a1a1a" text-anchor="end" font-family="Liberation Sans">10</text>
<line x1="424" y1="577.46" x2="429" y2="577.46" stroke="#2b2b2b" stroke-width="1.6" />
<text x="418.9" y="581.46" font-size="13.8" fill="#1a1a1a" text-anchor="end" font-family="Liberation Sans">20</text>
<text x="418.9" y="546.74" font-size="13.8" fill="#1a1a1a" text-anchor="end" font-family="Liberation Sans">30</text>
<text x="424.16" y="768.2" font-size="13.8" fill="#1a1a1a" text-anchor="middle" font-family="Liberation Sans">-8</text>
<line x1="455.02" y1="751.2" x2="455.02" y2="746.6" stroke="#2b2b2b" stroke-width="1.6" />
<text x="455.02" y="768.2" font-size="13.8" fill="#1a1a1a" text-anchor="middle" font-family="Liberation Sans">-6</text>
<line x1="485.88" y1="751.2" x2="485.88" y2="746.6" stroke="#2b2b2b" stroke-width="1.6" />
<text x="485.88" y="768.2" font-size="13.8" fill="#1a1a1a" text-anchor="middle" font-family="Liberation Sans">-4</text>
<line x1="516.74" y1="751.2" x2="516.74" y2="746.6" stroke="#2b2b2b" stroke-width="1.6" />
<text x="516.74" y="768.2" font-size="13.8" fill="#1a1a1a" text-anchor="middle" font-family="Liberation Sans">-2</text>
<line x1="547.6" y1="751.2" x2="547.6" y2="746.6" stroke="#2b2b2b" stroke-width="1.6" />
<text x="547.6" y="768.2" font-size="13.8" fill="#1a1a1a" text-anchor="middle" font-family="Liberation Sans">0</text>
<line x1="578.46" y1="751.2" x2="578.46" y2="746.6" stroke="#2b2b2b" stroke-width="1.6" />
<text x="578.46" y="768.2" font-size="13.8" fill="#1a1a1a" text-anchor="middle" font-family="Liberation Sans">2</text>
<line x1="609.32" y1="751.2" x2="609.32" y2="746.6" stroke="#2b2b2b" stroke-width="1.6" />
<text x="609.32" y="768.2" font-size="13.8" fill="#1a1a1a" text-anchor="middle" font-family="Liberation Sans">4</text>
<line x1="640.18" y1="751.2" x2="640.18" y2="746.6" stroke="#2b2b2b" stroke-width="1.6" />
<text x="640.18" y="768.2" font-size="13.8" fill="#1a1a1a" text-anchor="middle" font-family="Liberation Sans">6</text>
<text x="671.04" y="768.2" font-size="13.8" fill="#1a1a1a" text-anchor="middle" font-family="Liberation Sans">8</text>
<text x="547.5" y="790.6" font-size="13.8" fill="#1a1a1a" text-anchor="middle" font-family="Liberation Sans">Potential (V)</text>
<text transform="translate(393.6,646.6) rotate(-90)" font-size="14" fill="#1a1a1a" text-anchor="middle" font-family="Liberation Sans" textLength="163.8" lengthAdjust="spacingAndGlyphs">Current density (mA cm<tspan font-size="9.5" dy="-5.5">-2</tspan><tspan dy="5.5">)</tspan></text>
<line x1="557.3" y1="668.3" x2="579.7" y2="668.3" stroke="#F54B4B" stroke-width="2.4" />
<circle cx="568.5" cy="668.3" r="2.1" fill="#F54B4B"/>
<text x="584.9" y="672.8" font-size="12.2" fill="#1a1a1a" font-family="Liberation Sans"><tspan fill="#2A2AE6">Ta</tspan>/Ta<tspan font-size="8.6" dy="3">2</tspan><tspan dy="-3">O</tspan><tspan font-size="8.6" dy="3">5</tspan><tspan dy="-3">/Hf</tspan></text>
<line x1="557.3" y1="687.8" x2="579.7" y2="687.8" stroke="#B35CF7" stroke-width="2.4" />
<circle cx="568.5" cy="687.8" r="2.1" fill="#B35CF7"/>
<text x="584.9" y="692.3" font-size="12.2" fill="#1a1a1a" font-family="Liberation Sans"><tspan fill="#B35CF7">Hf</tspan>/Ta<tspan font-size="8.6" dy="3">2</tspan><tspan dy="-3">O</tspan><tspan font-size="8.6" dy="3">5</tspan><tspan dy="-3">/Ta</tspan></text>
<line x1="557.3" y1="708.2" x2="579.7" y2="708.2" stroke="#1010E8" stroke-width="2.4" />
<circle cx="568.5" cy="708.2" r="2.1" fill="#1010E8"/>
<text x="584.9" y="712.7" font-size="12.2" fill="#1a1a1a" font-family="Liberation Sans"><tspan fill="#2A2AE6">Ta</tspan>/Ta<tspan font-size="8.6" dy="3">2</tspan><tspan dy="-3">O</tspan><tspan font-size="8.6" dy="3">5</tspan><tspan dy="-3">/Ta</tspan></text>
<line x1="557.3" y1="728" x2="579.7" y2="728" stroke="#17C98C" stroke-width="2.4" />
<circle cx="568.5" cy="728" r="2.1" fill="#17C98C"/>
<text x="584.9" y="732.5" font-size="12.2" fill="#1a1a1a" font-family="Liberation Sans"><tspan fill="#17C98C">Zr</tspan>/Ta<tspan font-size="8.6" dy="3">2</tspan><tspan dy="-3">O</tspan><tspan font-size="8.6" dy="3">5</tspan><tspan dy="-3">/Ta</tspan></text>
<path d="M469.9,680.9 C470.42,678.75 471.32,672.15 473,668 C474.68,663.85 478.26,658.45 480,656 C481.74,653.55 482.88,653.75 483.45,653.3" fill="none" stroke="#B0B0B0" stroke-width="2.2"/>
<path d="M489.6,648.5 L484.16,657.45 L482.96,653.69 L479.6,651.62 Z" fill="#B0B0B0" stroke="#B0B0B0" stroke-width="0.5" stroke-linejoin="round"/>
<path d="M550.5,626 C551.08,623.67 552.25,616.17 554,612 C555.75,607.83 559.29,603.22 561,601 C562.71,598.78 563.72,599.04 564.27,598.65" fill="none" stroke="#B0B0B0" stroke-width="2.2"/>
<path d="M570.6,594.1 L564.8,602.82 L563.76,599.02 L560.48,596.82 Z" fill="#B0B0B0" stroke="#B0B0B0" stroke-width="0.5" stroke-linejoin="round"/>
<path d="M640.2,562.2 C640.08,564.33 639.87,570.7 639.5,575 C639.13,579.3 638.4,584.95 638,588 C637.6,591.05 637.25,592.42 637.1,593.31" fill="none" stroke="#B0B0B0" stroke-width="2.2"/>
<path d="M635.8,601 L633.79,590.72 L637.21,592.69 L641.08,591.95 Z" fill="#B0B0B0" stroke="#B0B0B0" stroke-width="0.5" stroke-linejoin="round"/>
<path d="M537.6,673.1 C537,675.08 535.43,681.18 534,685 C532.57,688.82 530.26,693.53 529,696 C527.74,698.47 526.87,699.18 526.44,699.82" fill="none" stroke="#B0B0B0" stroke-width="2.2"/>
<path d="M522.1,706.3 L524.48,696.1 L526.79,699.3 L530.63,700.22 Z" fill="#B0B0B0" stroke="#B0B0B0" stroke-width="0.5" stroke-linejoin="round"/>
<text x="556.6" y="583.7" font-size="13.5" fill="#111" text-anchor="start" font-family="Liberation Sans" font-weight="bold" >III</text>
<text x="513.8" y="726" font-size="13.5" fill="#111" text-anchor="start" font-family="Liberation Sans" font-weight="bold" >IV</text>
</svg></body></html>
